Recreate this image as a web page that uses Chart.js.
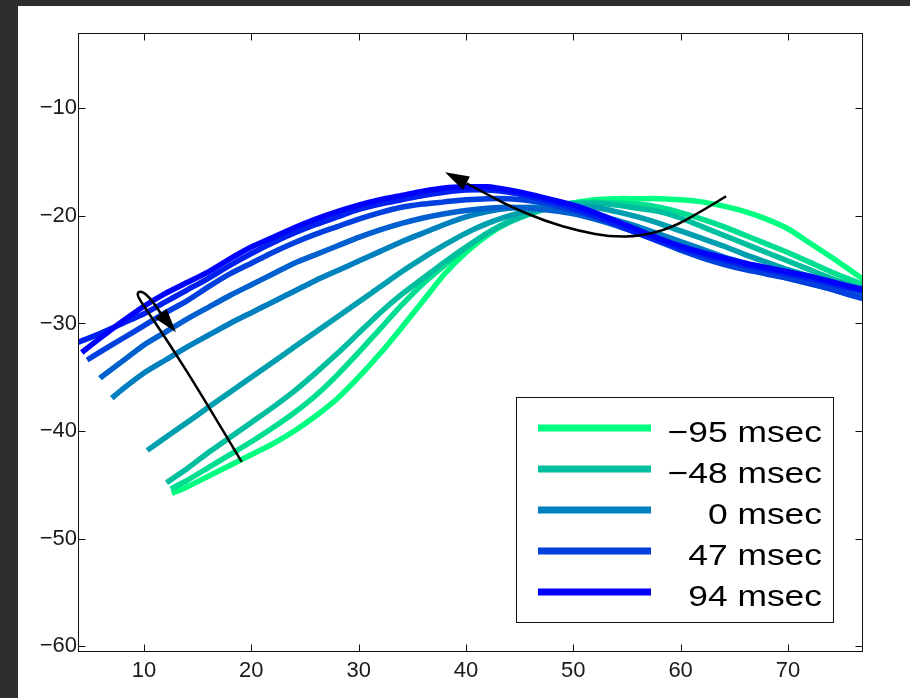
<!DOCTYPE html>
<html>
<head>
<meta charset="utf-8">
<script src="https://cdn.jsdelivr.net/npm/chart.js@4.4.1/dist/chart.umd.min.js"></script>
<style>
  html, body { margin: 0; padding: 0; background: #2e2e2e; }
  #wrap { position: absolute; left: 18px; top: 6px; width: 892px; height: 692px; background: #fff; }
</style>
</head>
<body>
<div id="wrap"><canvas id="trace"></canvas></div>
<script>
// shared sample positions (every 2 units); each trace starts at its own x
var gridX = [4, 6, 8, 10, 12, 14, 16, 18, 20, 22, 24, 26, 28, 30, 32, 34, 36, 38, 40,
             42, 44, 46, 48, 50, 52, 54, 56, 58, 60, 62, 64, 66, 68, 70, 72, 74, 76, 78];

var delays = [-95, -71, -48, -24, 0, 23, 47, 70, 94];
var startX = [12.6, 12.5, 12.1, 10.3, 7.0, 5.9, 4.7, 3.5, 4.2];
var legendDelays = [-95, -48, 0, 47, 94];

// first value sits at startX, the rest on gridX points past it
var yM95 = [-45.8, -45.2, -44.2, -43.2, -42.2, -41.2, -40.0, -38.6, -37.0, -35.0,
            -32.8, -30.4, -27.9, -25.4, -23.4, -21.8, -20.6, -19.8, -19.2, -18.8,
            -18.5, -18.4, -18.4, -18.4, -18.5, -18.7, -19.1, -19.6, -20.3, -21.2,
            -22.5, -23.8, -25.2, -26.6];
var yM71 = [-45.4, -44.6, -43.4, -42.2, -41.0, -39.7, -38.3, -36.7, -34.8, -32.7,
            -30.5, -28.3, -26.3, -24.6, -23.0, -21.6, -20.5, -19.7, -19.1, -18.8,
            -18.7, -18.8, -18.9, -19.2, -19.7, -20.3, -21.0, -21.8, -22.6, -23.4,
            -24.3, -25.2, -26.0, -26.8];
var yM48 = [-44.8, -43.5, -42.0, -40.6, -39.2, -37.8, -36.3, -34.6, -32.8, -30.9,
            -29.0, -27.3, -25.8, -24.3, -22.9, -21.6, -20.6, -19.8, -19.2, -18.9,
            -18.8, -19.0, -19.3, -19.6, -20.2, -21.0, -21.8, -22.6, -23.4, -24.2,
            -25.0, -25.8, -26.5, -27.2];
var yM24 = [-41.8, -40.6, -39.2, -37.8, -36.4, -35.0, -33.6, -32.2, -30.8, -29.4,
            -28.0, -26.6, -25.2, -23.9, -22.7, -21.6, -20.7, -20.0, -19.5, -19.2,
            -19.1, -19.2, -19.6, -20.1, -20.7, -21.4, -22.1, -22.8, -23.6, -24.3,
            -25.0, -25.6, -26.2, -26.9, -27.5];
var yP0 = [-36.95, -36.1, -34.6, -33.4, -32.2, -31.1, -30.0, -29.0, -28.0, -27.0,
           -26.0, -25.1, -24.2, -23.3, -22.4, -21.6, -20.8, -20.1, -19.6, -19.3,
           -19.2, -19.3, -19.5, -19.9, -20.4, -21.0, -21.7, -22.4, -23.1, -23.8,
           -24.4, -25.0, -25.5, -26.0, -26.6, -27.2, -27.8];
var yP23 = [-35.1, -35.0, -33.5, -32.0, -30.8, -29.6, -28.5, -27.4, -26.4, -25.4,
            -24.4, -23.6, -22.8, -22.0, -21.3, -20.7, -20.2, -19.8, -19.5, -19.3,
            -19.2, -19.3, -19.5, -19.8, -20.3, -20.9, -21.6, -22.3, -23.0, -23.7,
            -24.3, -24.8, -25.3, -25.8, -26.3, -26.8, -27.4, -28.0];
var yP47 = [-33.4, -32.6, -31.4, -30.2, -29.0, -27.9, -26.6, -25.4, -24.4, -23.4,
            -22.5, -21.7, -21.0, -20.3, -19.7, -19.2, -18.9, -18.7, -18.5, -18.4,
            -18.4, -18.6, -19.0, -19.5, -20.1, -20.8, -21.6, -22.4, -23.2, -23.9,
            -24.5, -25.0, -25.4, -25.8, -26.3, -26.8, -27.4, -27.9];
var yP70 = [-31.9, -31.7, -30.9, -30.0, -29.1, -28.0, -26.9, -25.8, -24.6, -23.5,
            -22.5, -21.6, -20.8, -20.1, -19.4, -18.9, -18.5, -18.1, -17.8, -17.6,
            -17.6, -17.8, -18.2, -18.7, -19.3, -20.0, -20.8, -21.6, -22.3, -23.0,
            -23.6, -24.1, -24.6, -25.0, -25.4, -25.8, -26.3, -26.8, -27.2];
var yP94 = [-32.7, -31.3, -29.8, -28.4, -27.2, -26.2, -25.2, -24.0, -22.9, -22.0,
            -21.1, -20.3, -19.6, -19.0, -18.5, -18.1, -17.7, -17.4, -17.3, -17.3,
            -17.6, -18.0, -18.5, -19.0, -19.7, -20.5, -21.3, -22.1, -22.8, -23.4,
            -23.9, -24.4, -24.8, -25.2, -25.6, -26.1, -26.6, -27.0];
var traces = [yM95, yM71, yM48, yM24, yP0, yP23, yP47, yP70, yP94];

var xTicks = [10, 20, 30, 40, 50, 60, 70];
var yTicks = [-60, -50, -40, -30, -20, -10];

// annotation arrows, in data units; last point is the arrow tip
var loopArrow = [[19.1, -42.87], [15.22, -36.39], [11.96, -31.28], [10.19, -28.68],
                 [9.39, -27.47], [9.44, -27.05], [9.91, -27.05], [10.56, -27.66],
                 [11.12, -28.40], [11.58, -29.10], [12.98, -30.82]];
var peakArrow = [[64.24, -18.18], [61.82, -19.67], [59.02, -21.15], [56.23, -21.90],
                 [53.43, -21.94], [50.63, -21.43], [47.37, -20.50], [44.11, -19.11],
                 [41.97, -17.99], [40.05, -16.97], [38.05, -15.95]];

// winter colormap: green (-95) to blue (94)
var lineColors = ['#00ff80', '#00df8f', '#00bf9f', '#009faf', '#0080bf',
                  '#0060cf', '#0040df', '#0020ef', '#0000ff'];

function minusFmt(v) {
    return v < 0 ? '\u2212' + Math.abs(v) : String(v);
}

function buildPoints(x0, ys) {
    var pts = [{ x: x0, y: ys[0] }];
    var k = 1;
    gridX.forEach(function (x) {
        if (x > x0 && k < ys.length) {
            pts.push({ x: x, y: ys[k] });
            k++;
        }
    });
    return pts;
}

var datasets = delays.map(function (d, i) {
    return {
        label: minusFmt(d) + ' msec',
        data: buildPoints(startX[i], traces[i]),
        borderColor: lineColors[i],
        backgroundColor: lineColors[i],
        borderWidth: 5.5,
        borderJoinStyle: 'round',
        pointRadius: 0,
        tension: 0.2,
        fill: false,
        clip: 0,
        order: delays.length - 1 - i   // later traces on top
    };
});

var tickFont = { family: 'Liberation Sans', size: 22 };

// box round the axes with inward ticks on all four sides
var framePlugin = {
    id: 'frame',
    afterDatasetsDraw: function (chart) {
        var ctx = chart.ctx, a = chart.chartArea;
        var sx = chart.scales.x, sy = chart.scales.y;
        var l = Math.floor(a.left) + 0.5, r = Math.floor(a.right) + 0.5;
        var t = Math.floor(a.top) + 0.5, b = Math.floor(a.bottom) + 0.5;
        var len = 7;
        ctx.save();
        ctx.strokeStyle = '#111';
        ctx.lineWidth = 1;
        ctx.strokeRect(l, t, r - l, b - t);
        ctx.beginPath();
        xTicks.forEach(function (v) {
            var px = Math.round(sx.getPixelForValue(v)) + 0.5;
            ctx.moveTo(px, b); ctx.lineTo(px, b - len);
            ctx.moveTo(px, t); ctx.lineTo(px, t + len);
        });
        yTicks.forEach(function (v) {
            var py = Math.round(sy.getPixelForValue(v)) + 0.5;
            ctx.moveTo(l, py); ctx.lineTo(l + len, py);
            ctx.moveTo(r, py); ctx.lineTo(r - len, py);
        });
        ctx.stroke();
        ctx.restore();
    }
};

function drawArrow(chart, path) {
    var ctx = chart.ctx;
    var sx = chart.scales.x, sy = chart.scales.y;
    var p = path.map(function (q) { return [sx.getPixelForValue(q[0]), sy.getPixelForValue(q[1])]; });
    var tip = p[p.length - 1], base = p[p.length - 2];
    ctx.save();
    ctx.strokeStyle = '#000';
    ctx.fillStyle = '#000';
    ctx.lineWidth = 2.5;
    ctx.lineJoin = 'round';
    ctx.beginPath();
    ctx.moveTo(p[0][0], p[0][1]);
    for (var i = 1; i < p.length - 2; i++) {
        var mx = (p[i][0] + p[i + 1][0]) / 2, my = (p[i][1] + p[i + 1][1]) / 2;
        ctx.quadraticCurveTo(p[i][0], p[i][1], mx, my);
    }
    ctx.lineTo(base[0], base[1]);
    ctx.stroke();
    // filled head
    var dx = tip[0] - base[0], dy = tip[1] - base[1];
    var d = Math.sqrt(dx * dx + dy * dy);
    var ux = dx / d, uy = dy / d, hl = 24, hw = 7.5;
    var bx = tip[0] - ux * hl, by = tip[1] - uy * hl;
    ctx.beginPath();
    ctx.moveTo(tip[0], tip[1]);
    ctx.lineTo(bx - uy * hw, by + ux * hw);
    ctx.lineTo(bx + uy * hw, by - ux * hw);
    ctx.closePath();
    ctx.fill();
    ctx.restore();
}

var arrowPlugin = {
    id: 'arrows',
    afterDatasetsDraw: function (chart) {
        drawArrow(chart, loopArrow);
        drawArrow(chart, peakArrow);
    }
};

// boxed legend for every other trace
var legendPlugin = {
    id: 'boxLegend',
    afterDraw: function (chart) {
        var ctx = chart.ctx;
        var bx = 498.5, by = 391.5, bw = 317, bh = 225;
        ctx.save();
        ctx.fillStyle = '#fff';
        ctx.fillRect(bx, by, bw, bh);
        ctx.strokeStyle = '#111';
        ctx.lineWidth = 1;
        ctx.strokeRect(bx, by, bw, bh);
        legendDelays.forEach(function (d, k) {
            var ds = chart.data.datasets[delays.indexOf(d)];
            var ly = 422 + k * 41;
            ctx.strokeStyle = ds.borderColor;
            ctx.lineWidth = 7;
            ctx.beginPath();
            ctx.moveTo(520, ly);
            ctx.lineTo(633, ly);
            ctx.stroke();
            // text is a little wider than the plain face
            ctx.save();
            ctx.translate(804, ly + 13.5);
            ctx.scale(1.18, 1);
            ctx.font = '30px "Liberation Sans"';
            ctx.textAlign = 'right';
            ctx.textBaseline = 'alphabetic';
            ctx.fillStyle = '#000';
            ctx.fillText(ds.label, 0, 0);
            ctx.restore();
        });
        ctx.restore();
    }
};

new Chart(document.getElementById('trace'), {
    type: 'line',
    data: { datasets: datasets },
    options: {
        responsive: true,
        maintainAspectRatio: false,
        animation: false,
        devicePixelRatio: 1,
        layout: { padding: { top: 27, right: 48, left: 0, bottom: 0 } },
        plugins: { legend: { display: false }, tooltip: { enabled: false } },
        scales: {
            x: {
                type: 'linear',
                min: 3.85,
                max: 76.9,
                grid: { display: false, drawTicks: false },
                border: { display: false },
                ticks: {
                    font: tickFont, color: '#1a1a1a', padding: 7,
                    maxRotation: 0, autoSkip: false, callback: minusFmt
                },
                afterBuildTicks: function (s) { s.ticks = xTicks.map(function (v) { return { value: v }; }); },
                afterFit: function (s) { s.height = 47; }
            },
            y: {
                type: 'linear',
                min: -60.45,
                max: -3,
                grid: { display: false, drawTicks: false },
                border: { display: false },
                ticks: {
                    font: tickFont, color: '#1a1a1a', padding: 1,
                    autoSkip: false, callback: minusFmt
                },
                afterBuildTicks: function (s) { s.ticks = yTicks.map(function (v) { return { value: v }; }); },
                afterFit: function (s) { s.width = 60; }
            }
        }
    },
    plugins: [framePlugin, arrowPlugin, legendPlugin]
});
</script>
</body>
</html>
